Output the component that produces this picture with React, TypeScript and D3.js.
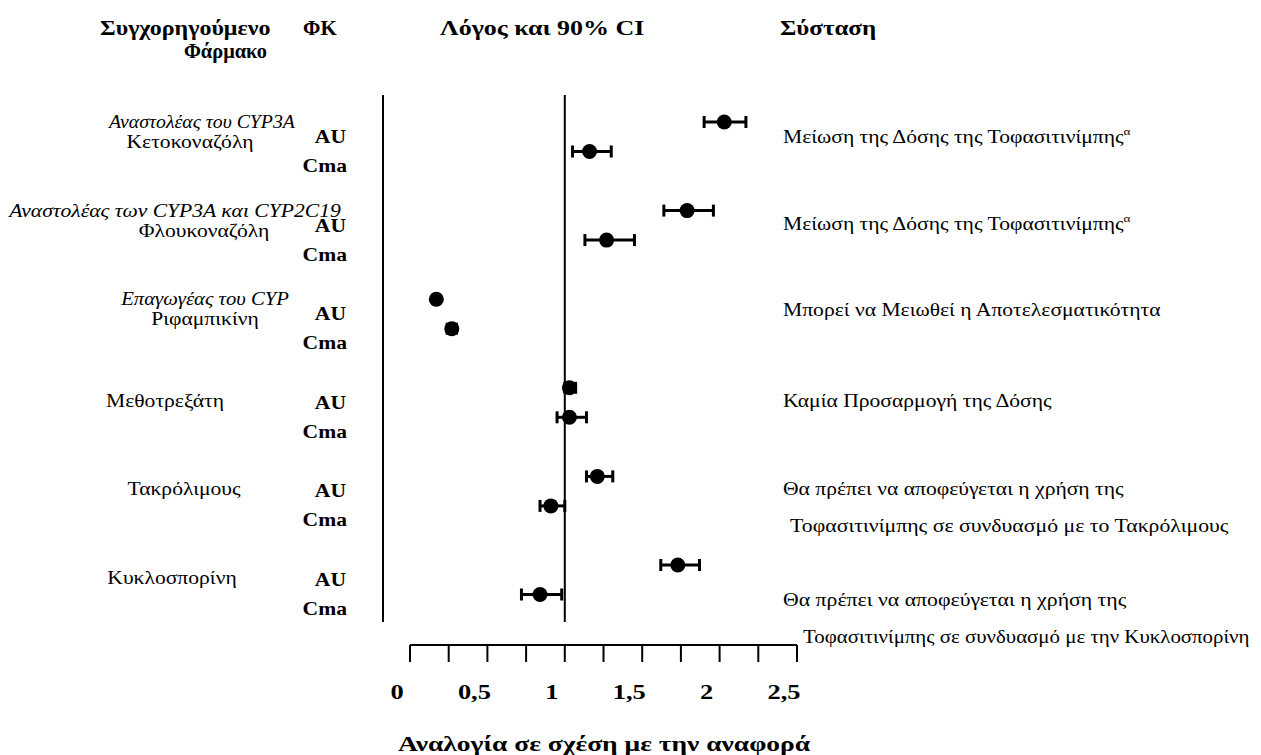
import React from 'react';
import * as d3 from 'd3';

// drug interaction forest plot (tofacitinib)
const drugs = ['Κετοκοναζόλη', 'Φλουκοναζόλη', 'Ριφαμπικίνη', 'Μεθοτρεξάτη', 'Τακρόλιμους', 'Κυκλοσπορίνη'];
const drugClasses = ['Αναστολέας του CYP3A', 'Αναστολέας των CYP3A και CYP2C19', 'Επαγωγέας του CYP', '', '', ''];
const pkParams = ['AU', 'Cma'];

const aucRatio = [2.03, 1.79, 0.17, 1.03, 1.21, 1.73];
const aucLow = [1.9, 1.64, 0.15, 1.0, 1.14, 1.62];
const aucHigh = [2.17, 1.96, 0.19, 1.07, 1.31, 1.87];
const cmaxRatio = [1.16, 1.27, 0.27, 1.03, 0.91, 0.84];
const cmaxLow = [1.05, 1.13, 0.24, 0.95, 0.84, 0.72];
const cmaxHigh = [1.3, 1.45, 0.3, 1.14, 1.0, 0.98];

const recommendations = [
  ['Μείωση της Δόσης της Τοφασιτινίμπης'],
  ['Μείωση της Δόσης της Τοφασιτινίμπης'],
  ['Μπορεί να Μειωθεί η Αποτελεσματικότητα'],
  ['Καμία Προσαρμογή της Δόσης'],
  ['Θα πρέπει να αποφεύγεται η χρήση της', 'Τοφασιτινίμπης σε συνδυασμό με το Τακρόλιμους'],
  ['Θα πρέπει να αποφεύγεται η χρήση της', 'Τοφασιτινίμπης σε συνδυασμό με την Κυκλοσπορίνη'],
];
const footnoteMark = ['α', 'α', '', '', '', ''];

const tickValues = [0, 0.25, 0.5, 0.75, 1, 1.25, 1.5, 1.75, 2, 2.25, 2.5];
const labelValues = [0, 0.5, 1, 1.5, 2, 2.5];
const headers = ['Συγχορηγούμενο', 'Φάρμακο', 'ΦΚ', 'Λόγος και 90% CI', 'Σύσταση'];
const axisTitle = 'Αναλογία σε σχέση με την αναφορά';

const W = 1261;
const H = 755;
const FONT = '"Liberation Serif", "Times New Roman", serif';
const SX = 1.2; // the source figure is stretched horizontally

// text layout per group (label centres, recommendation offsets)
const nameX = [190, 204, 205, 165, 184, 172];
const classX = [202, 175, 205, 0, 0, 0];
const classSx = [1.1, 1.2, 1.15, 1, 1, 1];
const recDy = [15, 13, 11, 13, 13, 35];
const recIndent = [[0], [0], [0], [0], [0, 7], [0, 20]];
const recSx = [[1.2], [1.2], [1.2], [1.2], [1.2, 1.21], [1.21, 1.16]];

type STextProps = {
  x: number;
  y: number;
  sx?: number;
  anchor?: 'start' | 'middle' | 'end';
  children: React.ReactNode;
  [k: string]: any;
};

const SText = ({ x, y, sx = SX, anchor = 'start', children, ...rest }: STextProps) => (
  <text transform={`translate(${x},${y}) scale(${sx},1)`} textAnchor={anchor} {...rest}>
    {children}
  </text>
);

export default function App() {
  const x = d3.scaleLinear().domain([0, 2.5]).range([410, 797]);
  const yGroup = d3.scalePoint<string>().domain(drugs).range([122, 565]);
  const yInner = d3.scalePoint<string>().domain(pkParams).range([0, 29.5]);

  const rows = drugs.flatMap((d, i) => [
    { drug: d, pk: 'AU', r: aucRatio[i], lo: aucLow[i], hi: aucHigh[i] },
    { drug: d, pk: 'Cma', r: cmaxRatio[i], lo: cmaxLow[i], hi: cmaxHigh[i] },
  ]);

  const top = 95;
  const bottom = 622;
  const axisY = 645;
  const fmt = (v: number) => String(v).replace('.', ',');

  return (
    <>
      <style>{'body{margin:0}'}</style>
      <svg width={W} height={H} style={{ display: 'block', background: '#fff' }} fontFamily={FONT}>
        {/* headers */}
        <g fontWeight="bold" fontSize={20} fill="#000">
          <SText x={100} y={35}>{headers[0]}</SText>
          <SText x={267} y={58} anchor="end" sx={1.02}>{headers[1]}</SText>
          <SText x={303} y={35} sx={1.05}>{headers[2]}</SText>
          <SText x={440} y={35} sx={1.3}>{headers[3]}</SText>
          <SText x={780} y={35} sx={1.25}>{headers[4]}</SText>
        </g>

        {/* frame line and reference line at ratio 1 */}
        <line x1={383} x2={383} y1={top} y2={bottom} stroke="#000" strokeWidth={2} />
        <line x1={x(1)} x2={x(1)} y1={top} y2={bottom} stroke="#000" strokeWidth={2} />

        {/* left labels and recommendations */}
        {drugs.map((d, i) => {
          const gy = yGroup(d)!;
          return (
            <g key={d} fontSize={18}>
              {drugClasses[i] && (
                <SText x={classX[i]} y={gy + 6} anchor="middle" fontStyle="italic" sx={classSx[i]}>
                  {drugClasses[i]}
                </SText>
              )}
              <SText x={nameX[i]} y={gy + (drugClasses[i] ? 26 : 19)} anchor="middle">
                {d}
              </SText>
              <SText x={346} y={gy + 21} anchor="end" fontWeight="bold">AU</SText>
              <SText x={347} y={gy + 50} anchor="end" fontWeight="bold">Cma</SText>
              {recommendations[i].map((line, j) => (
                <SText key={j} x={783 + recIndent[i][j]} y={gy + recDy[i] + 6 + j * 37} sx={recSx[i][j]}>
                  {line}
                  {j === 0 && footnoteMark[i] && (
                    <tspan fontSize={11} dy={-8}>{footnoteMark[i]}</tspan>
                  )}
                </SText>
              ))}
            </g>
          );
        })}

        {/* ratios with 90% CI */}
        {rows.map((r) => {
          const cy = yGroup(r.drug)! + yInner(r.pk)!;
          return (
            <g key={r.drug + r.pk} stroke="#000" strokeWidth={3}>
              <line x1={x(r.lo)} x2={x(r.hi)} y1={cy} y2={cy} />
              <line x1={x(r.lo)} x2={x(r.lo)} y1={cy - 6} y2={cy + 6} />
              <line x1={x(r.hi)} x2={x(r.hi)} y1={cy - 6} y2={cy + 6} />
              <circle cx={x(r.r)} cy={cy} r={7.5} fill="#000" stroke="none" />
            </g>
          );
        })}

        {/* x axis */}
        <g stroke="#000" strokeWidth={2}>
          <line x1={x(0)} x2={x(2.5)} y1={axisY} y2={axisY} />
          {tickValues.map((t) => (
            <line key={t} x1={x(t)} x2={x(t)} y1={axisY} y2={axisY + 17} />
          ))}
        </g>
        <g fontWeight="bold" fontSize={22}>
          {labelValues.map((v) => (
            <SText key={v} x={x(v) - 13} y={699} anchor="middle">{fmt(v)}</SText>
          ))}
        </g>
        <SText x={604} y={751} anchor="middle" fontWeight="bold" fontSize={22} sx={1.25}>
          {axisTitle}
        </SText>
      </svg>
    </>
  );
}
